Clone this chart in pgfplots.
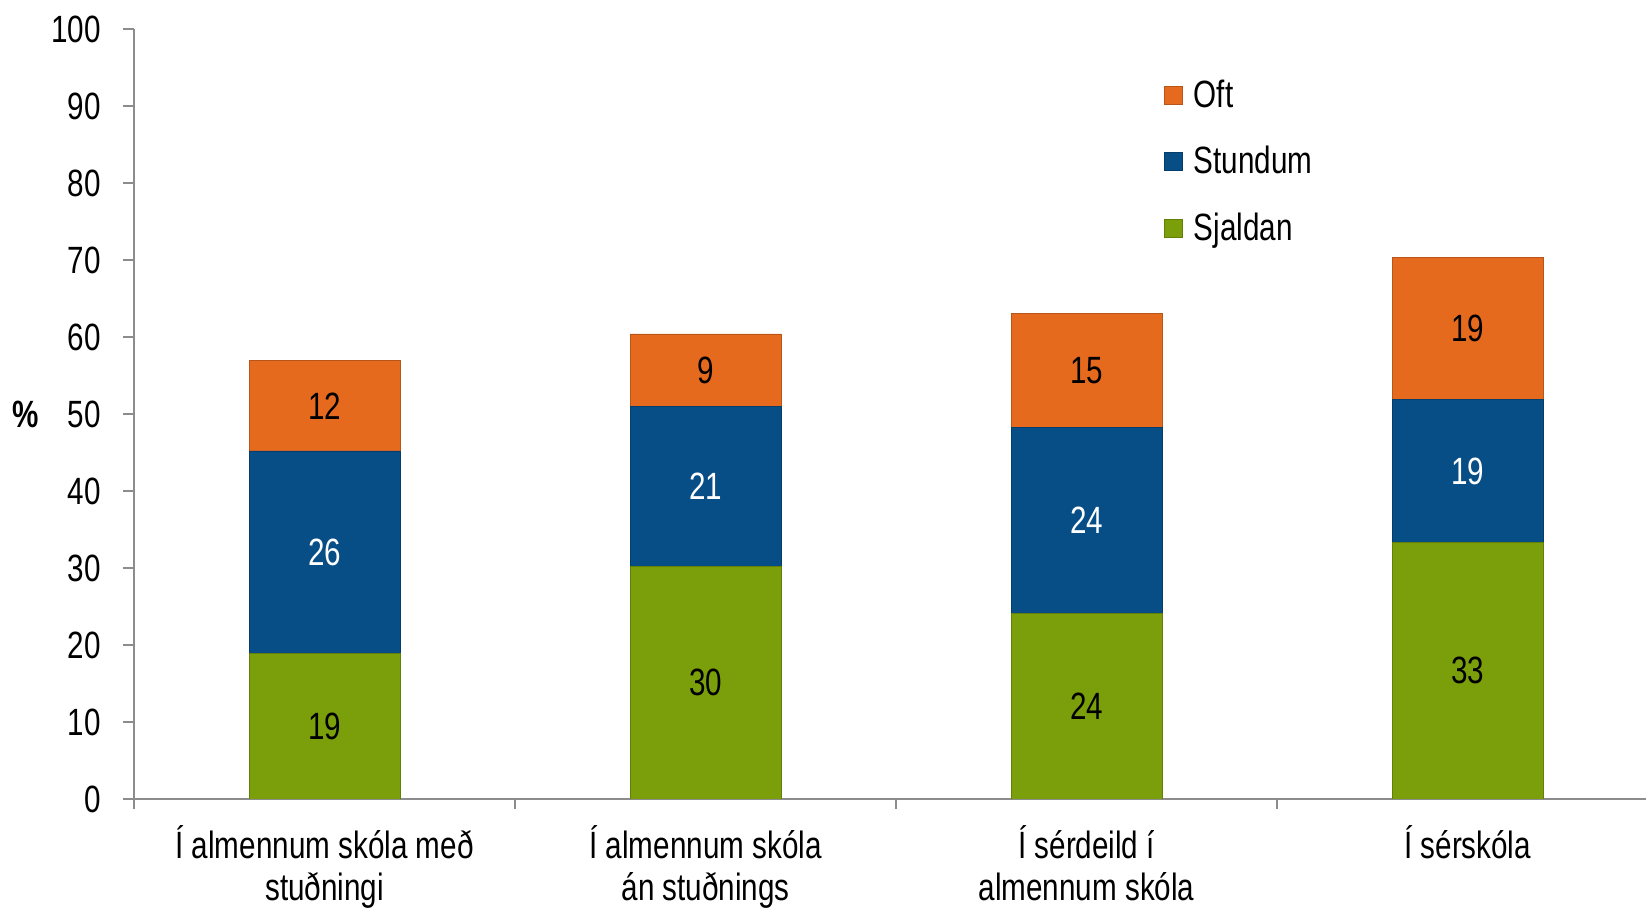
\documentclass[border=0pt]{standalone}
\usepackage{fontspec}
\setmainfont{Liberation Sans}[FakeStretch=0.78]
\usepackage{pgfplots}
\usepackage{pgfplotstable}
\pgfplotsset{compat=1.18}

\definecolor{cOft}{HTML}{E66A1E}
\definecolor{cStu}{HTML}{074D86}
\definecolor{cSja}{HTML}{7A9F0A}
\definecolor{axgray}{HTML}{8C8C8C}

\pgfplotstableread{
x y lab
0 18.9 19
1 30.2 30
2 24.1 24
3 33.3 33
}\sjaldan
\pgfplotstableread{
x y lab
0 26.3 26
1 20.8 21
2 24.2 24
3 18.6 19
}\stundum
\pgfplotstableread{
x y lab
0 11.7 12
1 9.4 9
2 14.7 15
3 18.4 19
}\oft

\begin{document}
\begin{tikzpicture}
\begin{axis}[
  name=ax,
  scale only axis, width=756pt, height=385pt,
  ybar stacked, bar width=0.396,
  xmin=-0.5, xmax=3.468, ymin=0, ymax=100,
  axis x line=bottom, axis y line=left,
  axis line style={-, axgray, line width=0.9pt},
  tick align=outside,
  xtick={0,1,2,3},
  xticklabels={{Í almennum skóla með\\stuðningi},{Í almennum skóla\\án stuðnings},{Í sérdeild í\\almennum skóla},{Í sérskóla}},
  major x tick style={draw=none},
  minor xtick={-0.5,0.5,1.5,2.5},
  minor x tick style={axgray, line width=0.9pt},
  minor tick length=5pt,
  ytick={0,10,...,100},
  y tick style={axgray, line width=0.9pt},
  major tick length=5.5pt,
  /pgf/number format/assume math mode=true,
  ticklabel style={font=\fontsize{19}{21}\selectfont},
  xticklabel style={align=center, yshift=-4pt},
  yticklabel style={anchor=east, xshift=-7.5pt},
  ylabel={\textbf{\%}},
  every axis y label/.style={at={(rel axis cs:0,0.5)}, anchor=east, xshift=-44pt,
     font=\fontsize{19}{21}\selectfont},
  nodes near coords,
  point meta=explicit symbolic,
  every node near coord/.append style={anchor=center, font=\fontsize{19}{21}\selectfont},
  legend style={at={(rel axis cs:0.677,0.945)}, anchor=north west, draw=none, fill=none,
     font=\fontsize{19}{21}\selectfont, row sep=14pt,
     /tikz/every odd column/.append style={column sep=3.5pt}},
  legend cell align=left,
  reverse legend,
  legend image code/.code={\fill[#1] (0pt,-4.5pt) rectangle (9pt,4.5pt);},
]
\addplot[fill=cSja, draw=cSja!80!black, line width=0.4pt,
  every node near coord/.append style={text=black}]
  table[x=x, y=y, meta=lab] {\sjaldan};
\addplot[fill=cStu, draw=cStu!80!black, line width=0.4pt,
  every node near coord/.append style={text=white}]
  table[x=x, y=y, meta=lab] {\stundum};
\addplot[fill=cOft, draw=cOft!80!black, line width=0.4pt,
  every node near coord/.append style={text=black}]
  table[x=x, y=y, meta=lab] {\oft};
\legend{Sjaldan,Stundum,Oft}
\end{axis}
\pgfresetboundingbox
\path[use as bounding box] ([xshift=-67pt,yshift=-54.5pt]ax.south west) rectangle ([yshift=14.5pt]ax.north east);
\end{tikzpicture}
\end{document}
